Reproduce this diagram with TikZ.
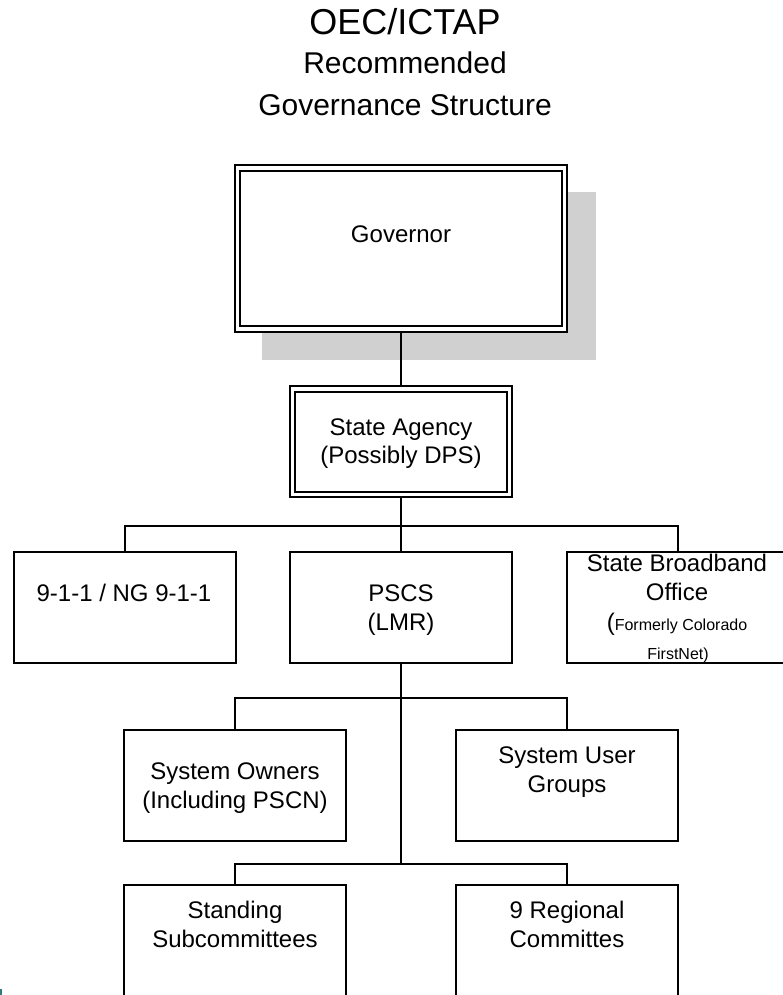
\documentclass[tikz,border=0pt]{standalone}
\usepackage{fontspec}
\setmainfont{Liberation Sans}
\definecolor{shadowgray}{HTML}{D0D0D0}
\definecolor{markteal}{HTML}{2E7D7A}
\begin{document}
\begin{tikzpicture}[x=1pt,y=-1pt,
  box/.style={draw, line width=1.5pt, fill=white, inner sep=0pt, outer sep=0pt,
              minimum width=222pt, minimum height=111pt},
  inbox/.style={draw, line width=2pt},
  conn/.style={draw, line width=2pt},
  txt/.style={anchor=base, inner sep=0pt, outer sep=0pt, font=\fontsize{24}{29}\selectfont},
  small/.style={anchor=base, inner sep=0pt, outer sep=0pt, font=\fontsize{16}{19}\selectfont}]
\useasboundingbox (0,0) rectangle (783,995);

% title
\node[txt, font=\fontsize{36}{40}\selectfont] (t1) at (405,35) {OEC/ICTAP};
\node[txt, font=\fontsize{30}{34}\selectfont] (t2) at (405,74) {Recommended};
\node[txt, font=\fontsize{30}{34}\selectfont] (t3) at (405,116) {Governance Structure};

% boxes
\node[box, minimum width=332pt, minimum height=167pt, draw=none, fill=none] (gov) at (401,248.5) {};
\fill[shadowgray] ([shift={(27,27)}]gov.north west) rectangle ([shift={(29,28)}]gov.south east);
\draw[line width=1.5pt, fill=white] (gov.north west) rectangle (gov.south east);
\draw[inbox] ([shift={(5,6)}]gov.north west) rectangle ([shift={(-5,-6)}]gov.south east);

\node[box] (sa) at (401,441.5) {};
\draw[inbox] ([shift={(5,6)}]sa.north west) rectangle ([shift={(-5,-5)}]sa.south east);

\node[box] (n911) at (125,607.5) {};
\node[box] (pscs) at (401,607.5) {};
\node[box] (sbo) at (678,607.5) {};

\node[box] (so) at (235,785.5) {};
\node[box] (sug) at (567,785.5) {};

\node[box] (ss) at (235,940.5) {};
\node[box] (rc) at (567,940.5) {};

% connectors
\coordinate (b1) at (401,526);
\coordinate (b2) at (401,698);
\coordinate (b3) at (401,864);
\draw[conn] (gov.south) -- (sa.north);
\draw[conn] (sa.south) -- (pscs.north);
\draw[conn] (n911.north) |- (b1) -| (sbo.north);
\draw[conn] (pscs.south) -- (b3);
\draw[conn] (so.north) |- (b2) -| (sug.north);
\draw[conn] (ss.north) |- (b3) -| (rc.north);

% texts
\node[txt] (govt) at (401,242) {Governor};
\node[txt] (sat1) at (401,435) {State Agency};
\node[txt] (sat2) at (401,463) {(Possibly DPS)};
\node[txt] (n911t) at (124,601) {9-1-1 / NG 9-1-1};
\node[txt] (pscst1) at (401,601) {PSCS};
\node[txt] (pscst2) at (401,630) {(LMR)};
\node[txt] (sbot1) at (677,571) {State Broadband};
\node[txt] (sbot2) at (677,600) {Office};
\node[txt] (sbot3) at (677,630) {(\fontsize{16}{19}\selectfont Formerly Colorado};
\node[small] (sbot4) at (678,659) {FirstNet)};
\node[txt] (sot1) at (235,779) {System Owners};
\node[txt] (sot2) at (235,808) {(Including PSCN)};
\node[txt] (sugt1) at (567,763) {System User};
\node[txt] (sugt2) at (567,792) {Groups};
\node[txt] (sst1) at (235,918) {Standing};
\node[txt] (sst2) at (235,947) {Subcommittees};
\node[txt] (rct1) at (567,918) {9 Regional};
\node[txt] (rct2) at (567,947) {Committes};

\fill[markteal] (0,989) rectangle (2,995);
\end{tikzpicture}
\end{document}
